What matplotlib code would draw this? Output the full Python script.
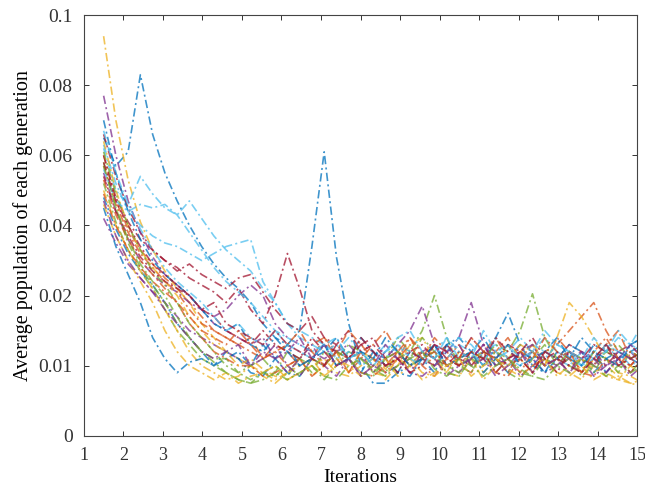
import numpy as np
import matplotlib
matplotlib.use("Agg")
import matplotlib.pyplot as plt

# iteration grid shared by every run
X = np.arange(45) * 0.31 + 1.5

# average population per generation, in thousandths (per-mille)
run01 = [65, 57, 61, 83, 66, 55, 47, 40, 34, 29, 25, 22, 19, 16, 14,
         13, 15, 34, 61, 31, 16, 10, 7.5, 7.5, 9, 10, 12, 11, 13, 10,
         11, 12, 10, 11, 13, 12, 10, 11, 12, 10, 13, 12, 11, 12, 13]
run02 = [60, 47, 39, 33, 29, 25, 22, 19, 17, 15, 14, 13, 12, 11, 13,
         12, 10, 11, 14, 12, 9, 11, 13, 15, 12, 9, 11, 14, 12, 10,
         9, 12, 14, 11, 9, 12, 10, 14, 12, 9, 11, 13, 15, 11, 10]
run03 = [94, 70, 53, 41, 33, 27, 22, 19, 16, 14, 12, 11, 10, 9, 8,
         9, 11, 8.5, 10, 12, 9, 12, 11, 8, 10, 13, 14, 11, 9, 12,
         11, 8, 10, 13, 11, 9, 12, 11, 9, 8, 11, 10, 8.5, 7.5, 7]
run04 = [55, 44, 36, 30, 26, 23, 21, 19, 18, 17, 18, 20, 23, 20, 16,
         14, 13, 12, 11, 12, 13, 11, 10, 9, 10, 11, 12, 13, 12, 14,
         19, 13, 11, 10, 12, 11, 9, 10, 11, 12, 10, 9, 11, 12, 10]
run05 = [52, 41, 33, 27, 22, 18, 15, 13, 11, 10, 9, 8, 7.5, 9, 10,
         8.5, 11, 10, 8, 10, 12, 11, 9, 11, 14, 12, 15, 20, 14, 10,
         9, 12, 11, 9, 8, 11, 13, 10, 11, 8.5, 10, 12, 11, 9, 11]
run06 = [62, 50, 46, 54, 49, 45, 43, 47, 42, 37, 33, 30, 27, 22, 19,
         16, 15, 14, 13, 12, 14, 12, 11, 13, 12, 10, 11, 12, 14, 11,
         10, 12, 13, 11, 10, 12, 14, 12, 11, 10, 12, 13, 11, 12, 11]
run07 = [60, 48, 41, 36, 33, 30, 28, 25, 23, 21, 19, 22, 18, 16, 20,
         32, 22, 15, 13, 12, 11, 13, 12, 10, 11, 12, 13, 11, 10, 12,
         11, 13, 12, 10, 11, 12, 10, 11, 13, 12, 11, 10, 12, 13, 11]
run08 = [48, 39, 32, 27, 23, 19, 16, 14, 12, 10, 11, 12, 10, 13, 11,
         9, 8.5, 11, 13, 10, 11, 14, 12, 10, 9, 12, 11, 9, 13, 14,
         12, 10, 14, 17.5, 13, 10, 9, 12, 11, 14, 12, 9, 11, 13, 14]
run09 = [57, 46, 38, 32, 28, 24, 21, 18, 16, 15, 14, 13, 14, 11, 12,
         10, 11, 13, 14, 11, 9, 12, 11, 9, 11, 14, 12, 10, 11, 13,
         10, 11, 12, 14, 11, 9, 12, 13, 15, 17, 19, 15, 12, 11, 12]
run10 = [50, 40, 33, 27, 22, 18, 15, 12, 10, 9, 8, 8.5, 10, 8.5, 7.5,
         9, 10, 11, 8.5, 10, 11, 12, 9, 8.5, 11, 10, 12, 11, 9, 8.5,
         11, 12, 9, 11, 13, 12, 10, 14, 19, 17, 14, 11, 9, 8.5, 7.5]
run11 = [42, 35, 29, 25, 21, 19, 17, 15, 14, 13, 12, 11, 10, 12, 11,
         9, 11, 13, 10, 8.5, 11, 12, 9, 11, 13, 15, 18.5, 13, 10, 9,
         11, 13, 10, 11, 8.5, 10, 12, 11, 9, 11, 12, 10, 11, 8.5, 10]
run12 = [58, 45, 35, 28, 23, 19, 16, 14, 12, 11, 11, 9, 10, 11, 9,
         12, 11, 9, 12, 11, 13, 12, 10, 9, 12, 11, 14, 12, 10, 9,
         12, 11, 13, 12, 15, 20.5, 14, 11, 10, 9, 12, 11, 9, 12, 11]
run13 = [63, 52, 44, 40, 37, 35, 34, 32, 30, 32, 34, 35, 36, 24, 19,
         16, 14, 13, 12, 13, 11, 12, 10, 11, 13, 12, 11, 10, 12, 14,
         13, 11, 12, 10, 11, 13, 12, 11, 10, 12, 11, 13, 12, 10, 11]
run14 = [66, 54, 45, 38, 33, 30, 27, 29, 26, 24, 22, 25, 26, 21, 18,
         16, 15, 17, 14, 13, 15, 12, 13, 11, 12, 10, 11, 13, 12, 11,
         10, 12, 11, 13, 12, 10, 11, 12, 10, 11, 13, 12, 11, 10, 12]
run15 = [45, 34, 26, 19, 14, 11, 9, 10.5, 11, 10, 12, 11, 9, 8.5, 11,
         13, 10, 11, 12, 14, 11, 9, 12, 11, 9, 8.5, 11, 13, 10, 11,
         12, 14, 11, 9, 12, 11, 9, 11, 13, 12, 9, 11, 12, 11, 10]
run16 = [53, 43, 36, 30, 26, 22, 19, 16, 14, 12, 11, 10, 10, 8.5, 9,
         10, 11, 8.5, 10, 12, 11, 9, 8.5, 10, 11, 13, 10, 8.5, 11, 10,
         12, 11, 9, 8.5, 11, 13, 10, 11, 12, 9, 8.5, 11, 10, 12, 11]
run17 = [64, 50, 40, 33, 28, 24, 20, 17, 15, 13, 12, 10, 11, 9.5, 8.5,
         8, 9, 10, 11, 9, 8.5, 10, 11, 9.5, 12, 11, 9, 8.5, 10, 11,
         12, 9, 11, 10, 12, 13, 11, 9, 8.5, 10, 8, 9, 8, 7.5, 8]
run18 = [77, 60, 47, 38, 31, 26, 23, 20, 18, 16, 15, 14, 13, 14, 11,
         12, 14, 11, 10, 12, 11, 8.5, 10, 12, 11, 9, 12, 11, 8.5, 10,
         11, 13, 10, 11, 12, 9, 11, 10, 12, 11, 8.5, 10, 12, 11, 10]
run19 = [61, 49, 40, 33, 27, 23, 19, 16, 14, 12, 10, 9, 8, 9, 8.5,
         10, 8.5, 11, 10, 12, 11, 9, 8.5, 11, 12, 10, 11, 12, 9, 8.5,
         11, 10, 12, 11, 9, 8.5, 11, 10, 12, 11, 9, 12, 13, 11, 12]
run20 = [56, 47, 44, 46, 45, 46, 43, 38, 33, 28, 24, 21, 19, 17, 15,
         14, 13, 12, 13, 11, 12, 10, 11, 12, 13, 11, 10, 12, 11, 13,
         12, 10, 11, 12, 14, 12, 11, 13, 12, 10, 11, 12, 14, 13, 12]
run21 = [54, 44, 37, 31, 27, 24, 22, 20, 18, 17, 15, 14, 13, 15, 13,
         12, 11, 14, 12, 10, 11, 13, 14, 11, 9, 12, 11, 10, 13, 11,
         14, 12, 9, 11, 12, 14, 11, 9, 12, 11, 10, 13, 11, 9, 11]
run22 = [70, 55, 44, 36, 30, 26, 23, 20, 18, 16, 15, 16, 13, 12, 14,
         12, 10, 11, 13, 10, 11, 12, 11, 14, 12, 10, 11, 13, 10, 11,
         12, 9, 11, 13, 10, 11, 12, 14, 11, 10, 12, 11, 10, 13, 14]
run23 = [49, 40, 33, 28, 24, 21, 19, 17, 15, 14, 13, 15, 13, 11, 12,
         13, 15, 12, 10, 12, 15, 13, 11, 10, 12, 14, 11, 12, 10, 11,
         14, 12, 11, 9, 12, 11, 14, 12, 11, 9, 12, 14, 11, 10, 12]
run24 = [46, 37, 30, 24, 19, 15, 12, 10, 9, 8, 9, 7.5, 8.5, 9, 10,
         8, 9, 10, 8.5, 11, 10, 8.5, 10, 11, 8.5, 10, 8, 9, 10, 11,
         8.5, 10, 11, 9.5, 8.5, 10, 11, 8.5, 10, 11, 9.5, 8.5, 8, 10, 8.5]
run25 = [47, 37, 30, 25, 21, 18, 16, 14, 12, 11, 12, 13, 10, 11, 13,
         10, 8.5, 11, 13, 10, 11, 8.5, 10, 13, 11, 9, 8.5, 10, 12, 13,
         10, 11, 8.5, 10, 12, 13, 10, 11, 9, 12, 11, 9, 11, 13, 11]
run26 = [57, 45, 36, 29, 24, 20, 17, 14, 12, 10.5, 9, 8, 7.5, 8, 9,
         8, 9, 10, 8.5, 8, 10, 11, 9.5, 8.5, 10, 11, 12, 9.5, 8.5, 11,
         10, 8.5, 10, 11, 9.5, 8.5, 8, 10, 9, 11, 10, 8.5, 10, 9, 10]
run27 = [67, 55, 46, 39, 33, 28, 24, 21, 19, 17, 15, 16, 14, 13, 15,
         13, 12, 11, 13, 14, 11, 12, 10, 12, 14, 15, 12, 11, 14, 12,
         11, 15, 12, 13, 11, 12, 15, 13, 12, 11, 14, 12, 15, 13, 16]
run28 = [58, 47, 40, 34, 29, 26, 23, 20, 18, 19, 16, 15, 14, 13, 15,
         13, 12, 11, 10, 13, 11, 14, 12, 10, 11, 9, 10, 13, 11, 10,
         12, 11, 14, 12, 11, 9, 12, 11, 10, 9, 11, 13, 10, 11, 12]

RUNS = [run01, run02, run03, run04, run05, run06, run07, run08, run09, run10,
        run11, run12, run13, run14, run15, run16, run17, run18, run19, run20,
        run21, run22, run23, run24, run25, run26, run27, run28]

Y_TICKS = [0, 0.01, 0.02, 0.04, 0.06, 0.08, 0.1]
Y_TICK_LABELS = ["0", "0.01", "0.02", "0.04", "0.06", "0.08", "0.1"]
X_TICKS = list(range(1, 16))

# MATLAB default colour order
COLORS = ["#0072BD", "#D95319", "#EDB120", "#7E2F8E", "#77AC30", "#4DBEEE", "#A2142F"]


def fwd(v):
    v = np.asarray(v, dtype=float)
    return np.where(v <= 0.02, v / 0.01, 2 + (v - 0.02) / 0.02)


def inv(p):
    p = np.asarray(p, dtype=float)
    return np.where(p <= 2, p * 0.01, 0.02 + (p - 2) * 0.02)


plt.rcParams["font.family"] = ["Liberation Serif", "DejaVu Serif"]

fig = plt.figure(figsize=(6.45, 4.88), dpi=100)
ax = fig.add_axes([0.130, 0.107, 0.858, 0.862])

for k, run in enumerate(RUNS):
    y = np.array(run) / 1000.0
    ax.plot(X[:len(y)], y, color=COLORS[k % len(COLORS)], lw=1.2, alpha=0.75,
            linestyle=(0, (5, 2, 1.2, 2)))

ax.set_yscale("function", functions=(fwd, inv))
ax.set_xlim(1, 15)
ax.set_ylim(0, 0.1)
ax.set_xticks(X_TICKS)
ax.set_xticklabels([str(t) for t in X_TICKS])
ax.set_yticks(Y_TICKS)
ax.set_yticklabels(Y_TICK_LABELS)
ax.minorticks_off()
ax.tick_params(direction="in", top=True, right=True, length=3.5, width=0.7,
               colors="#333333")
ax.tick_params(axis="x", labelsize=13, pad=8)
ax.tick_params(axis="y", labelsize=14, pad=8)
for s in ax.spines.values():
    s.set_color("#444444")
    s.set_linewidth(0.8)

ax.set_xlabel("Iterations", fontsize=14, labelpad=4)
ax.set_ylabel("Average population of each generation", fontsize=14.5, labelpad=4)

fig.savefig("out.png", dpi=100)
